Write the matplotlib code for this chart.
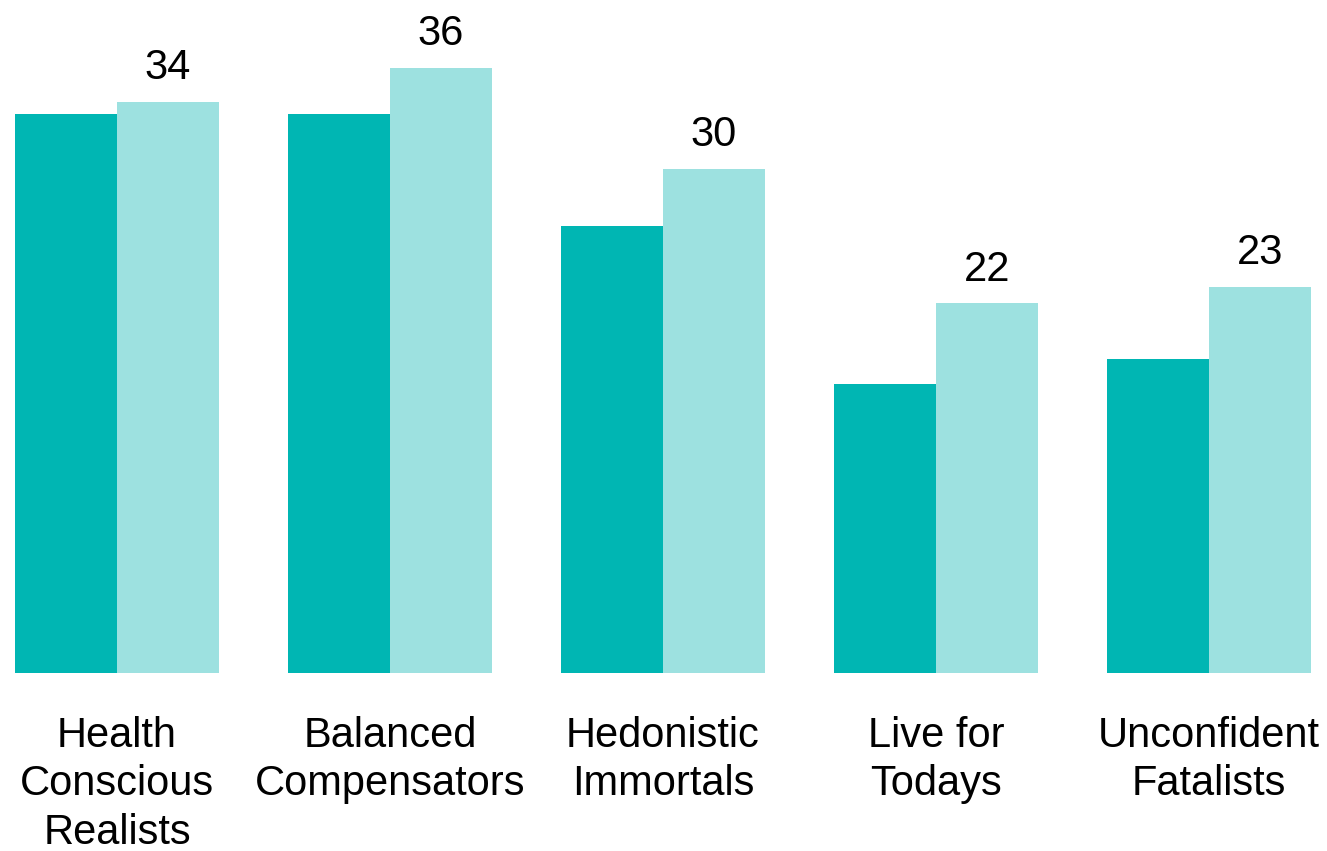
import matplotlib
matplotlib.use('Agg')
import matplotlib.pyplot as plt
import numpy as np

plt.rcParams['font.family'] = ['Liberation Sans', 'DejaVu Sans']

categories = ['Health\nConscious\nRealists', 'Balanced\nCompensators', 'Hedonistic\nImmortals',
              'Live for\nTodays', 'Unconfident\nFatalists']
series_a = [33.3, 33.3, 26.6, 17.2, 18.7]   # dark teal, unlabelled
series_b = [34, 36, 30, 22, 23]             # light teal, labelled

fig = plt.figure(figsize=(13.27, 8.51), dpi=100)
ax = fig.add_axes([0, 178 / 851, 1, 673 / 851])

x = np.arange(len(categories))
w = 102 / 273  # width of one bar

ax.bar(x - w / 2, series_a, width=w, color='#00B6B3', align='center')
bars = ax.bar(x + w / 2, series_b, width=w, color='#9DE1E0', align='center')

for rect, v in zip(bars, series_b):
    ax.annotate(str(v), (rect.get_x() + rect.get_width() / 2, rect.get_height()),
                xytext=(0, 10), textcoords='offset points', ha='center', va='bottom', fontsize=30)

ax.set_xlim(-117 / 273, (1327 - 117) / 273)
ax.set_ylim(0, 673 / 16.8)
ax.set_xticks(x)
ax.set_xticklabels(categories, fontsize=30, linespacing=1.27)
ax.tick_params(axis='x', length=0, pad=31)
ax.set_yticks([])
for s in ax.spines.values():
    s.set_visible(False)

fig.savefig('out.png', dpi=100)
